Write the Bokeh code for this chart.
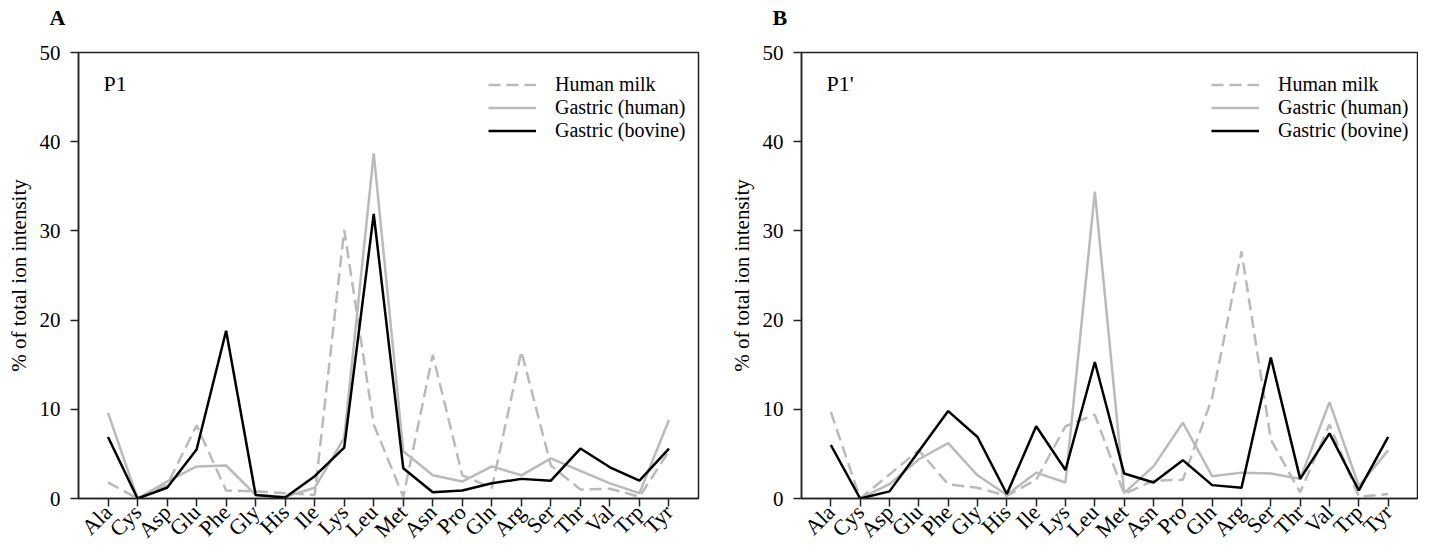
import math
from bokeh.plotting import figure
from bokeh.layouts import row
from bokeh.models import FactorRange, Range1d, Label, FixedTicker, Legend, Title
from bokeh.embed import file_html
from bokeh.resources import INLINE

amino_acids = ["Ala", "Cys", "Asp", "Glu", "Phe", "Gly", "His", "Ile", "Lys", "Leu",
               "Met", "Asn", "Pro", "Gln", "Arg", "Ser", "Thr", "Val", "Trp", "Tyr"]

p1_human_milk = [1.8, 0.0, 1.5, 8.2, 0.9, 0.8, 0.6, 0.4, 30.1, 8.3,
                 0.2, 16.1, 2.6, 1.2, 16.5, 3.7, 1.0, 1.1, 0.2, 5.3]
p1_gastric_human = [9.6, 0.0, 1.9, 3.6, 3.7, 0.4, 0.2, 1.2, 6.8, 38.7,
                    5.3, 2.6, 1.9, 3.6, 2.6, 4.5, 3.1, 1.7, 0.6, 8.8]
p1_gastric_bovine = [6.9, 0.0, 1.2, 5.5, 18.8, 0.4, 0.1, 2.5, 5.7, 31.9,
                     3.4, 0.7, 0.9, 1.7, 2.2, 2.0, 5.6, 3.5, 2.0, 5.6]

p1p_human_milk = [9.7, 0.0, 2.7, 5.4, 1.6, 1.2, 0.3, 2.1, 8.1, 9.4,
                  0.5, 2.0, 2.1, 11.3, 27.7, 6.6, 0.7, 8.3, 0.2, 0.5]
p1p_gastric_human = [float("nan"), 0.0, 1.6, 4.4, 6.2, 2.6, 0.4, 2.9, 1.8, 34.4,
                     0.6, 3.6, 8.5, 2.5, 2.9, 2.8, 2.2, 10.8, 1.4, 5.4]
p1p_gastric_bovine = [6.0, 0.0, 0.8, 5.3, 9.8, 6.9, 0.5, 8.1, 3.2, 15.3,
                      2.8, 1.8, 4.3, 1.5, 1.2, 15.8, 2.2, 7.3, 0.9, 6.9]

y_ticks = [0, 10, 20, 30, 40, 50]
series_names = ["Human milk", "Gastric (human)", "Gastric (bovine)"]

FONT = "Liberation Serif"
GRAY = "#bababa"


def make_panel(letter, site, milk, hum, bov, width, border_right):
    p = figure(x_range=FactorRange(factors=amino_acids, range_padding=0.5,
                                   range_padding_units="absolute"),
               y_range=Range1d(0, 50), title_location=None,
               width=width, height=554, output_backend="svg", toolbar_location=None,
               min_border_left=78, min_border_right=border_right,
               min_border_top=52, min_border_bottom=55)
    p.grid.visible = False
    p.outline_line_color = "#222222"
    p.outline_line_width = 1.5
    p.background_fill_color = "white"
    p.border_fill_color = "white"

    spacer = Title(text=" ", text_font_size="1px", standoff=18)
    p.add_layout(spacer, "above")
    panel_title = Title(text=letter, align="left", offset=-29, standoff=4,
                        text_font=FONT, text_font_size="22px",
                        text_font_style="bold", text_color="black")
    p.add_layout(panel_title, "above")

    r1 = p.line(amino_acids, milk, line_color=GRAY, line_width=2.5, line_dash="12 6")
    r2 = p.line(amino_acids, hum, line_color=GRAY, line_width=2.5)
    r3 = p.line(amino_acids, bov, line_color="black", line_width=2.5)

    legend = Legend(items=[(series_names[0], [r1]), (series_names[1], [r2]),
                           (series_names[2], [r3])],
                    location=(410, 356), padding=0, margin=0, spacing=0,
                    glyph_width=48, glyph_height=21, label_height=21,
                    label_standoff=19, border_line_color=None,
                    background_fill_alpha=0,
                    label_text_font=FONT, label_text_font_size="20px",
                    label_text_color="black")
    p.add_layout(legend, "center")

    for ax in (p.xaxis, p.yaxis):
        ax.axis_line_color = "#222222"
        ax.axis_line_width = 1.5
        ax.major_tick_line_color = "#222222"
        ax.major_tick_line_width = 1.5
        ax.major_tick_out = 8
        ax.major_tick_in = 0
        ax.minor_tick_line_color = None
        ax.major_label_text_font = FONT
        ax.major_label_text_color = "black"

    p.yaxis.major_label_text_font_size = "21px"
    p.xaxis.major_label_text_font_size = "22px"

    p.yaxis.ticker = FixedTicker(ticks=y_ticks)
    p.yaxis.major_label_standoff = 10
    p.yaxis.axis_label = "% of total ion intensity"
    p.yaxis.axis_label_text_font = FONT
    p.yaxis.axis_label_text_font_size = "21px"
    p.yaxis.axis_label_text_font_style = "normal"
    p.yaxis.axis_label_text_color = "black"
    p.yaxis.axis_label_standoff = 6

    p.xaxis.major_label_orientation = math.pi / 4
    p.xaxis.major_label_standoff = 2

    p.add_layout(Label(x=25, y=46.5, x_units="screen", y_units="data", text=site,
                       text_baseline="alphabetic",
                       text_font=FONT, text_font_size="22px", text_color="black"))
    return p


pa = make_panel("A", "P1", p1_human_milk, p1_gastric_human, p1_gastric_bovine, 723, 25)
pb = make_panel("B", "P1'", p1p_human_milk, p1p_gastric_human, p1p_gastric_bovine, 695, 1)

layout = row(pa, pb)
open("out.html", "w").write(file_html(layout, INLINE))
